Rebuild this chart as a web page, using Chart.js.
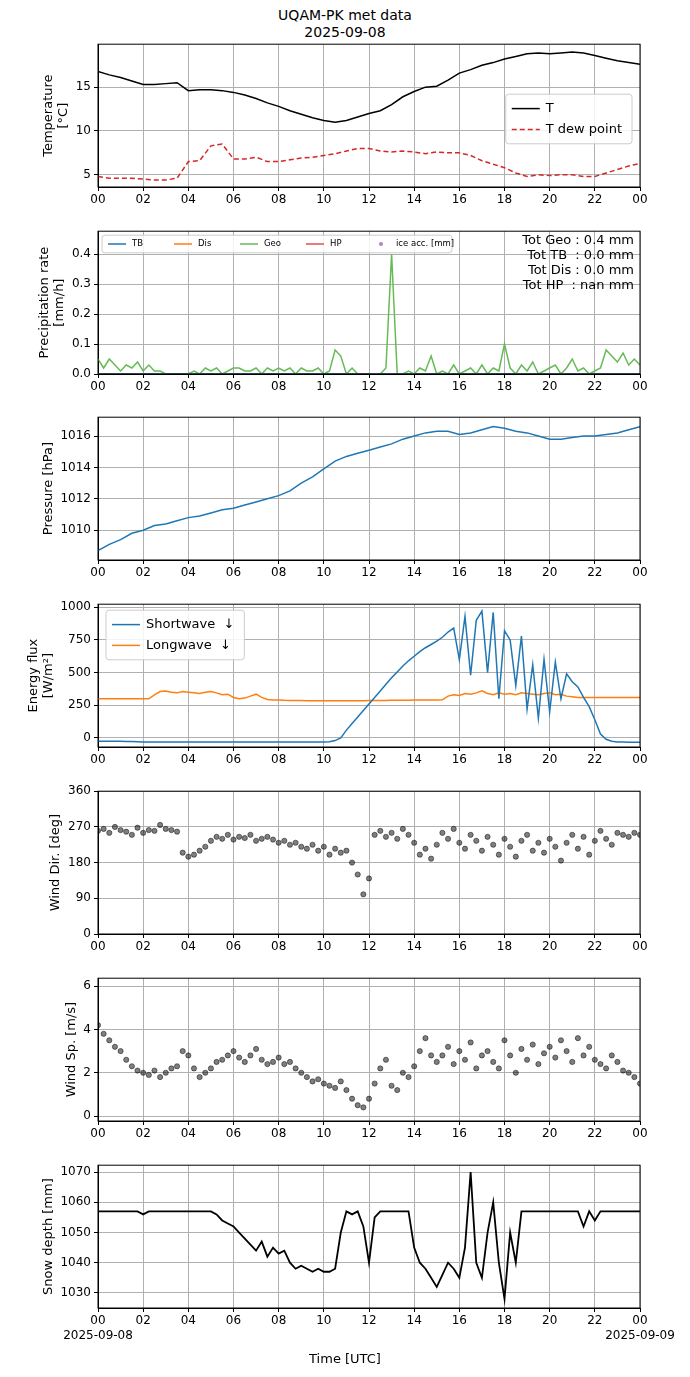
<!DOCTYPE html>
<html><head><meta charset="utf-8">
<script src="https://cdn.jsdelivr.net/npm/chart.js@4"></script>
<style>
body{margin:0;background:#fff;width:690px;height:1377px;position:relative;font-family:"DejaVu Sans";}
canvas{position:absolute;left:0;}
.t{position:absolute;width:690px;text-align:center;font-size:14px;color:#000;}
</style></head><body>
<div class="t" style="top:7px">UQAM-PK met data</div>
<div class="t" style="top:24px">2025-09-08</div>
<canvas id="c1"></canvas><canvas id="c2"></canvas><canvas id="c3"></canvas><canvas id="c4"></canvas>
<canvas id="c5"></canvas><canvas id="c6"></canvas><canvas id="c7"></canvas>
<div class="t" style="top:1351px;font-size:13px">Time [UTC]</div>
<script>
// half-hour series
const tempT = [16.8,16.4,16.1,15.7,15.3,15.3,15.4,15.5,14.6,14.7,14.7,14.6,14.4,14.1,13.7,13.2,12.8,12.3,11.9,11.5,11.2,11.0,11.2,11.6,12.0,12.3,13.0,13.9,14.5,15.0,15.1,15.8,16.6,17.0,17.5,17.8,18.2,18.5,18.8,18.9,18.8,18.9,19.0,18.9,18.6,18.3,18.0,17.8,17.6];
const tempDew = [4.8,4.6,4.6,4.6,4.5,4.4,4.4,4.6,6.5,6.6,8.3,8.5,6.8,6.8,7.0,6.5,6.5,6.7,6.9,7.0,7.2,7.4,7.7,8.0,8.0,7.7,7.6,7.7,7.6,7.4,7.6,7.5,7.5,7.2,6.6,6.2,5.8,5.2,4.8,5.0,4.9,5.0,5.0,4.8,4.8,5.2,5.6,6.0,6.3];
const pressure = [1008.7,1009.1,1009.4,1009.8,1010.0,1010.3,1010.4,1010.6,1010.8,1010.9,1011.1,1011.3,1011.4,1011.6,1011.8,1012.0,1012.2,1012.5,1013.0,1013.4,1013.9,1014.4,1014.7,1014.9,1015.1,1015.3,1015.5,1015.8,1016.0,1016.2,1016.3,1016.3,1016.1,1016.2,1016.4,1016.6,1016.5,1016.3,1016.2,1016.0,1015.8,1015.8,1015.9,1016.0,1016.0,1016.1,1016.2,1016.4,1016.6];
// quarter-hour series
const precipGeo = [0.05,0.02,0.05,0.03,0.01,0.03,0.02,0.04,0.01, 0.03,0.01,0.01,0,0,0,0,0, 0.01,0,0.02,0.01,0.02,0,0.01,0.02, 0.02,0.01,0.01,0.02,0,0.02,0.01,0.02, 0.01,0.02,0,0.02,0.01,0.01,0.02,0, 0.01,0.08,0.06,0,0.02,0,0,0, 0,0,0.02,0.40,0,0,0.01,0, 0.02,0.01,0.06,0,0.01,0,0.03,0, 0.01,0.02,0,0.03,0,0.02,0.01,0.10, 0.02,0,0.03,0.01,0.04,0,0.01,0.02, 0.03,0,0.02,0.05,0.01,0.02,0,0.01, 0.02,0.08,0.06,0.04,0.07,0.03,0.05,0.03];
const shortwave = [-25,-25,-25,-25,-25,-26,-27,-28,-30,-30,-30,-30,-30,-30,-30,-30,-30,-30,-30,-30,-30,-30,-30,-30,-30,-30,-30,-30,-30,-30,-30,-30,-30,-30,-30,-30,-30,-30,-30,-30,-30,-28,
 -20,0,60,110,160,210,260,310,360,410,460,505,550,590,625,660,690,715,740,770,810,840,600,930,480,900,970,500,960,300,820,750,400,780,220,560,150,600,200,580,300,490,430,390,310,240,140,30,-10,-25,-30,-30,-32,-32,-32];
const longwave = [300,300,300,300,300,300,300,300,300,300, 330,355,360,350,345,355,350,345,340,350,355,345,330, 335,310,300,305,320,335,310,295,290,
 290,288,287,286,286,285,285,285,285,285,285,285,285,285,285,285,286,286,287,287,288,288,289,289,290,290,290,290,291,292,
 320,330,325,340,335,345,360,340,330,345,335,340,330,345,340,335,330,340,345,330,335,320,315, 310,310,310,310,310,310,310,310,310,310,310,310];
const windDir = [260,265,255,270,262,258,250,268,255,262,260,275,265,262,258, 205,195,200,210, 220,235,245,240,250,238,245,242,250,235,240,245,238,230, 235,225,230,220,215,225,210,220,200,215,205,210, 180,150,100,140, 250,260,245,255,240,265,250,230, 200,215,190,225,
 255,240,265,230,215,250,235,210,245,225,200,240,220,195,235,250,210,230,205,240,220,185,230,250,215,245,200,235,260,240,225,255,250,245,255,250];
const windSpeed = [4.2,3.8,3.5,3.2,3.0, 2.6,2.3,2.1,2.0,1.9,2.1,1.8,2.0,2.2,2.3, 3.0,2.8,2.2,1.8, 2.0,2.2,2.5,2.6,2.8,3.0,2.7,2.5,2.8,3.1,2.6,2.4,2.5,2.7, 2.4,2.5,2.2,2.0,1.8,1.6,1.7,1.5,1.4,1.3,1.6,1.2, 0.8,0.5,0.4,0.8, 1.5,2.2,2.6,1.4,1.2,2.0,1.8,2.3, 3.0,3.6,2.8,2.5,
 2.8,3.2,2.4,3.0,2.6,3.4,2.2,2.8,3.0,2.5,2.2,3.5,2.8,2.0,3.1,2.6,3.3,2.4,2.9,3.2,2.7,3.5,3.0,2.5,3.6,2.8,3.2,2.6,2.4,2.2,2.8,2.5,2.1,2.0,1.8,1.5];
const snowDepth = [1057,1057,1057,1057,1057,1057,1057,1057,1056,1057,1057,1057,1057,1057,1057,1057,1057,1057,1057,1057,1057,1056,
 1054,1053,1052,1050,1048,1046,1044,1047,1042,1045,1043,1044,1040,1038,1039,1038,1037,1038,1037, 1037,1038, 1050,1057,1056,1057,1052, 1040, 1055,1057,1057,1057,1057,1057,1057,
 1045,1040,1038,1035,1032,1036,1040,1038,1035,1045,1070,1040,1035,1050,1060,1040,1028,1050,1040,1057,
 1057,1057,1057,1057,1057,1057,1057,1057,1057,1057,1052,1057,1054,1057,1057,1057,1057,1057,1057,1057,1057];
const precipTotals = ['Tot Geo : 0.4 mm','Tot TB  : 0.0 mm','Tot Dis : 0.0 mm','Tot HP  : nan mm'];
const xTicks = [0,2,4,6,8,10,12,14,16,18,20,22,24];

const half = tempT.map((v,i)=>i*0.5);
const quarter = precipGeo.map((v,i)=>i*0.25);
const pts = (xs, ys) => ys.map((y,i)=>({x:xs[i], y:y}));
const F = '"DejaVu Sans"';
Chart.defaults.font.family = F;
Chart.defaults.color = '#000';
Chart.defaults.animation = false;

const frame = {id:'frame', afterDraw(c){const a=c.chartArea,x=c.ctx;x.save();x.strokeStyle='#000';x.lineWidth=1;x.strokeRect(a.left,a.top,a.right-a.left,a.bottom-a.top);x.restore();}};

// y-axis title placed next to the tick labels, like matplotlib
function yTitle(lines){
  return {id:'yt', afterDraw(c){
    const x=c.ctx,a=c.chartArea,s=c.scales.y; x.save();
    x.font='13px '+F;
    const lw=(s._labelSizes&&s._labelSizes.widest)?s._labelSizes.widest.width:20;
    const cx=a.left-7-lw-12;
    const cy=(a.top+a.bottom)/2;
    lines.forEach((t,i)=>{
      const px=cx-(lines.length-1-i)*15;
      x.save();x.translate(px,cy);x.rotate(-Math.PI/2);x.textAlign='center';x.textBaseline='middle';x.fillText(t,0,0);x.restore();
    });
    x.restore();
  }};
}

function legendPlugin(items, pos, fontSize, sample){
  return {id:'lg', afterDraw(c){
    const x=c.ctx,a=c.chartArea; x.save(); x.font=fontSize+'px '+F;
    const lh=fontSize*1.6;
    let w; if(pos.row){w=pos.w;} else {w=sample+14+Math.max(...items.map(i=>x.measureText(i.t).width))+8;}
    const h=pos.row?lh+4:items.length*lh+8;
    const bx=pos.right?a.right-pos.dx-w:a.left+pos.dx, by=a.top+pos.dy;
    x.fillStyle='rgba(255,255,255,0.85)';x.strokeStyle='#ccc';x.lineWidth=1;
    x.beginPath();x.roundRect(bx,by,w,h,3);x.fill();x.stroke();
    items.forEach((it,k)=>{
      const ix=pos.row?bx+6+k*pos.step:bx+6, iy=pos.row?by+h/2:by+4+lh*(k+0.5);
      x.strokeStyle=it.c;x.fillStyle=it.c;x.lineWidth=it.lw||1.5;x.setLineDash(it.dash||[]);
      if(it.dot){x.globalAlpha=0.8;x.beginPath();x.arc(ix+sample/2,iy,2,0,7);x.fill();x.globalAlpha=1;}
      else{x.beginPath();x.moveTo(ix,iy);x.lineTo(ix+sample,iy);x.stroke();}
      x.setLineDash([]);x.fillStyle='#000';x.textBaseline='middle';x.fillText(it.t,ix+sample+6,iy);
    });
    x.restore();
  }};
}

function panel(id, top, cfg){
  const last = !!cfg.last;
  const H = 10 + 143 + (last?44:28);
  const el = document.getElementById(id);
  el.style.top = (top-10)+'px'; el.width=690; el.height=H; el.style.width='690px'; el.style.height=H+'px';
  const titleLines = Array.isArray(cfg.title)?cfg.title:[cfg.title];
  new Chart(el, {
    type:'line',
    data:{datasets:cfg.datasets},
    options:{
      responsive:false, devicePixelRatio:1,
      layout:{padding:{top:10,right:50,left:0,bottom:0}},
      plugins:{legend:{display:false},tooltip:{enabled:false}},
      scales:{
        x:{type:'linear',min:0,max:24,
          afterBuildTicks(s){s.ticks=xTicks.map(v=>({value:v}));},
          afterFit(s){s.height=last?44:28;},
          grid:{color:'#b0b0b0',tickLength:4,tickColor:'#000'},border:{color:'#000'},
          ticks:{font:{size:12},padding:2,maxRotation:0,autoSkip:false,
            callback(v){const s=String(v%24).padStart(2,'0'); if(last&&v===0)return [s,'2025-09-08']; if(last&&v===24)return [s,'2025-09-09']; return s;}}},
        y:{min:cfg.min,max:cfg.max,
          afterBuildTicks(s){s.ticks=cfg.ticks.map(v=>({value:v}));},
          afterFit(s){s.width=98;},
          grid:{color:'#b0b0b0',tickLength:4,tickColor:'#000'},border:{color:'#000'},
          ticks:{font:{size:12},padding:3,callback:cfg.fmt||(v=>v)}}
      }
    },
    plugins:[frame,yTitle(titleLines)].concat(cfg.plugins||[])
  });
}

const line = (data,color,extra)=>Object.assign({data,borderColor:color,borderWidth:1.5,pointRadius:0,tension:0,fill:false},extra||{});
const scat = (data)=>({data,showLine:false,pointRadius:2.6,pointBackgroundColor:'rgba(0,0,0,0.5)',pointBorderColor:'rgba(0,0,0,0.6)',pointBorderWidth:0.8});

panel('c1',44,{min:3.6,max:19.9,ticks:[5,10,15],title:['Temperature','[°C]'],
  datasets:[line(pts(half,tempT),'#000'),line(pts(half,tempDew),'#d62728',{borderDash:[5,3]})],
  plugins:[legendPlugin([{t:'T',c:'#000'},{t:'T dew point',c:'#d62728',dash:[5,3]}],{right:true,dx:8,dy:50},13,28)]});

const zeros = precipGeo.map(()=>0);
panel('c2',231,{min:0,max:0.477,ticks:[0,0.1,0.2,0.3,0.4],title:['Precipitation rate','[mm/h]'],fmt:v=>v.toFixed(1),
  datasets:[line(pts(quarter,zeros),'#1f77b4'),line(pts(quarter,zeros),'#ff7f0e'),line(pts(quarter,precipGeo),'#66bb55')],
  plugins:[legendPlugin([{t:'TB',c:'#1f77b4'},{t:'Dis',c:'#ff7f0e'},{t:'Geo',c:'#66bb55'},{t:'HP',c:'#e05050'},{t:'ice acc. [mm]',c:'#9467bd',dot:true}],{row:true,w:350,step:66,dx:4,dy:4},8.5,18),
    {id:'tot',afterDraw(c){const x=c.ctx,a=c.chartArea;x.save();x.font='13px '+F;x.textAlign='right';x.textBaseline='top';
      precipTotals.forEach((s,i)=>{x.fillText(s.replace(/  /g,'\u00a0 '),a.right-6,a.top+3+i*15);});x.restore();}}]});

panel('c3',417,{min:1008.1,max:1017.2,ticks:[1010,1012,1014,1016],title:'Pressure [hPa]',
  datasets:[line(pts(half,pressure),'#1f77b4')]});

panel('c4',604,{min:-69,max:1023,ticks:[0,250,500,750,1000],title:['Energy flux','[W/m²]'],
  datasets:[line(pts(quarter,shortwave),'#1f77b4'),line(pts(quarter,longwave),'#ff7f0e')],
  plugins:[legendPlugin([{t:'Shortwave  ↓',c:'#1f77b4'},{t:'Longwave  ↓',c:'#ff7f0e'}],{right:false,dx:8,dy:6},13,28)]});

panel('c5',791,{min:0,max:360,ticks:[0,90,180,270,360],title:'Wind Dir. [deg]',
  datasets:[scat(pts(quarter,windDir))]});

panel('c6',978,{min:-0.23,max:6.37,ticks:[0,2,4,6],title:'Wind Sp. [m/s]',
  datasets:[scat(pts(quarter,windSpeed))]});

panel('c7',1165,{min:1025,max:1072.3,ticks:[1030,1040,1050,1060,1070],title:'Snow depth [mm]',last:true,
  datasets:[line(pts(quarter,snowDepth),'#000',{borderWidth:1.8})]});
</script>
</body></html>
